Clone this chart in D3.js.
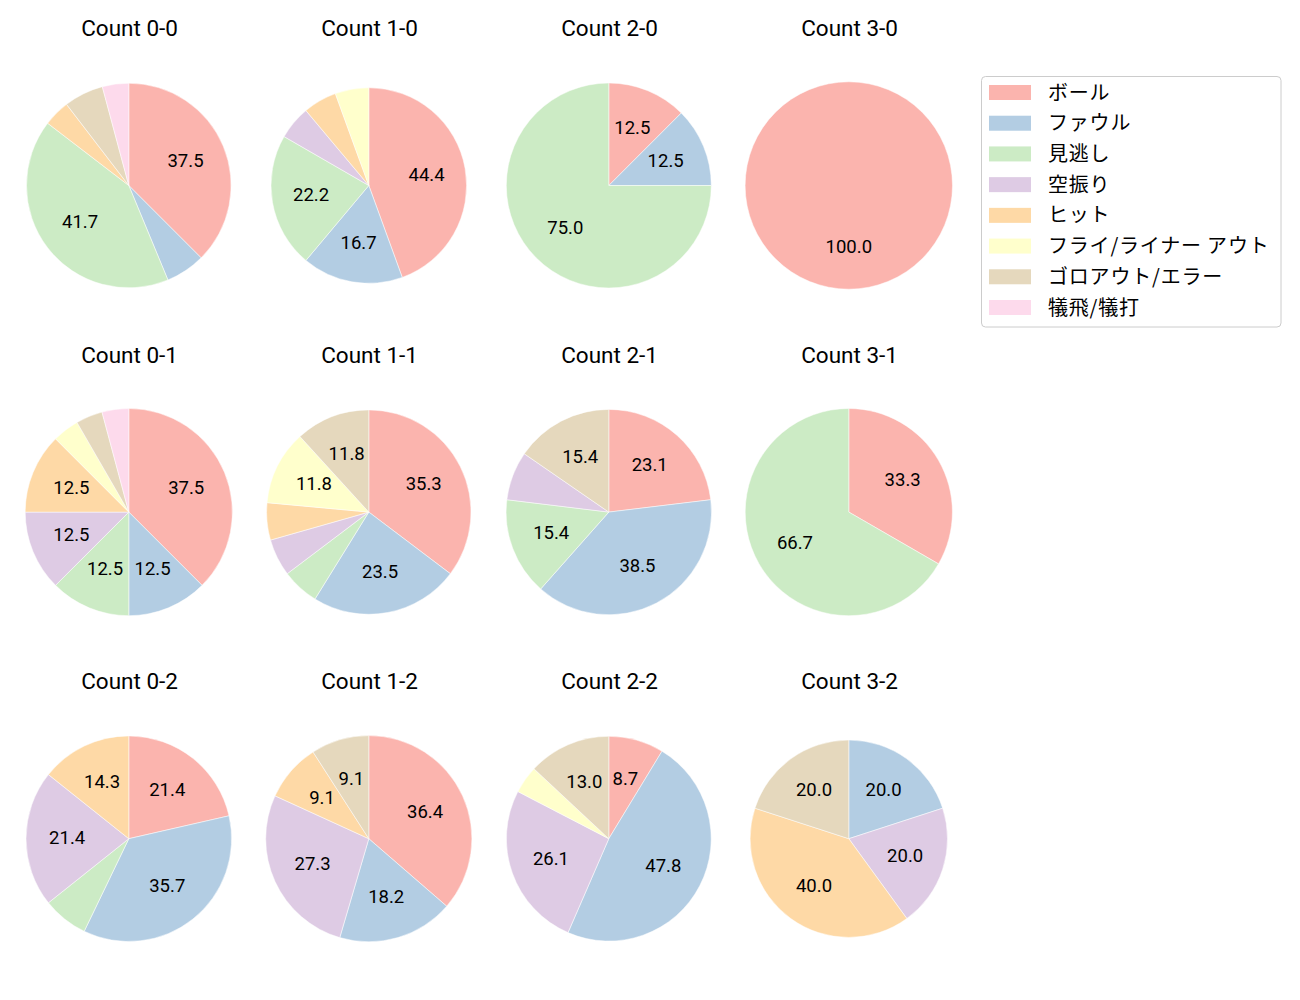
<!DOCTYPE html>
<html>
<head>
<meta charset="utf-8">
<script src="https://cdn.jsdelivr.net/npm/d3@7"></script>
<style>
  html, body { margin: 0; padding: 0; background: #fff; }
  svg { display: block; font-family: Roboto, "Noto Sans CJK JP", sans-serif; }
</style>
</head>
<body>
<svg id="chart" width="1300" height="1000"></svg>
<script>
// ---- data ----
const categories = ["ボール", "ファウル", "見逃し", "空振り", "ヒット", "フライ/ライナー アウト", "ゴロアウト/エラー", "犠飛/犠打"];
const colors = ["#fbb4ae", "#b3cde3", "#ccebc5", "#decbe4", "#fed9a6", "#ffffcc", "#e5d8bd", "#fddaec"];
const countLabels = ["0-0", "1-0", "2-0", "3-0", "0-1", "1-1", "2-1", "3-1", "0-2", "1-2", "2-2", "3-2"];
const c00 = [18, 3, 20, 0, 2, 0, 3, 2];
const c10 = [8, 3, 4, 1, 1, 1, 0, 0];
const c20 = [1, 1, 6, 0, 0, 0, 0, 0];
const c30 = [1, 0, 0, 0, 0, 0, 0, 0];
const c01 = [9, 3, 3, 3, 3, 1, 1, 1];
const c11 = [6, 4, 1, 1, 1, 2, 2, 0];
const c21 = [3, 5, 2, 1, 0, 0, 2, 0];
const c31 = [1, 0, 2, 0, 0, 0, 0, 0];
const c02 = [3, 5, 1, 3, 2, 0, 0, 0];
const c12 = [4, 2, 0, 3, 1, 0, 1, 0];
const c22 = [2, 11, 0, 6, 0, 1, 3, 0];
const c32 = [0, 1, 0, 1, 2, 0, 1, 0];
const countValues = [c00, c10, c20, c30, c01, c11, c21, c31, c02, c12, c22, c32];

// ---- layout ----
const colX0 = 128.8, colStep = 240;
const rowY0 = 185.5, rowStep = 326.6;
const radii = [102.3, 97.8, 102.5, 103.7, 103.6, 102.2, 102.7, 103.6, 102.8, 103.1, 102.4, 98.7];
const titleOffset = -149.5;
const labelThreshold = 8;
const labelSize = 18.5;

const svg = d3.select("#chart");
const color = d3.scaleOrdinal().domain(categories).range(colors);
const pie = d3.pie().sort(null).value(d => d.v).startAngle(0).endAngle(2 * Math.PI);

countLabels.forEach((lab, i) => {
  const col = i % 4, row = Math.floor(i / 4);
  const cx = colX0 + col * colStep;
  const cy = rowY0 + row * rowStep;
  const r = radii[i];
  const vals = countValues[i];
  const total = d3.sum(vals);
  const items = categories.map((c, k) => ({ c, v: vals[k] })).filter(d => d.v > 0);
  const arcs = pie(items);
  const arc = d3.arc().innerRadius(0).outerRadius(r);

  const g = svg.append("g").attr("transform", `translate(${cx},${cy})`);
  g.selectAll("path").data(arcs).join("path")
    .attr("d", arc)
    .attr("fill", d => color(d.data.c))
    .attr("stroke", "#ffffff")
    .attr("stroke-width", 0.5);

  g.selectAll("text.lbl").data(arcs.filter(d => d.data.v / total * 100 >= labelThreshold)).join("text")
    .attr("class", "lbl")
    .attr("transform", d => {
      const a = (d.startAngle + d.endAngle) / 2;
      const rr = r * 0.6;
      return `translate(${rr * Math.sin(a)},${-rr * Math.cos(a) + labelSize * 0.355 - 1.2})`;
    })
    .attr("text-anchor", "middle")
    .attr("font-size", labelSize + "px")
    .attr("fill", "#000")
    .text(d => (d.data.v / total * 100).toFixed(1));

  svg.append("text")
    .attr("x", cx + 0.8)
    .attr("y", cy + titleOffset)
    .attr("text-anchor", "middle")
    .attr("font-size", "22.5px")
    .attr("fill", "#000")
    .text("Count " + lab);
});

// ---- legend ----
const lg = svg.append("g").attr("transform", "translate(981.5,76.5)");
lg.append("rect")
  .attr("width", 299.5).attr("height", 250.5)
  .attr("rx", 4).attr("ry", 4)
  .attr("fill", "#fff").attr("fill-opacity", 0.8)
  .attr("stroke", "#cccccc").attr("stroke-width", 1);
const ly = d3.scalePoint().domain(categories).range([16, 231]);
categories.forEach(c => {
  lg.append("rect")
    .attr("x", 7.5).attr("y", ly(c) - 7.5)
    .attr("width", 42).attr("height", 15)
    .attr("fill", color(c));
  lg.append("text")
    .attr("x", 66.5).attr("y", ly(c) + 7)
    .attr("font-family", "'Noto Sans CJK JP', sans-serif")
    .attr("font-size", "20px")
    .attr("letter-spacing", "0.8px")
    .attr("fill", "#000")
    .text(c);
});
</script>
</body>
</html>
